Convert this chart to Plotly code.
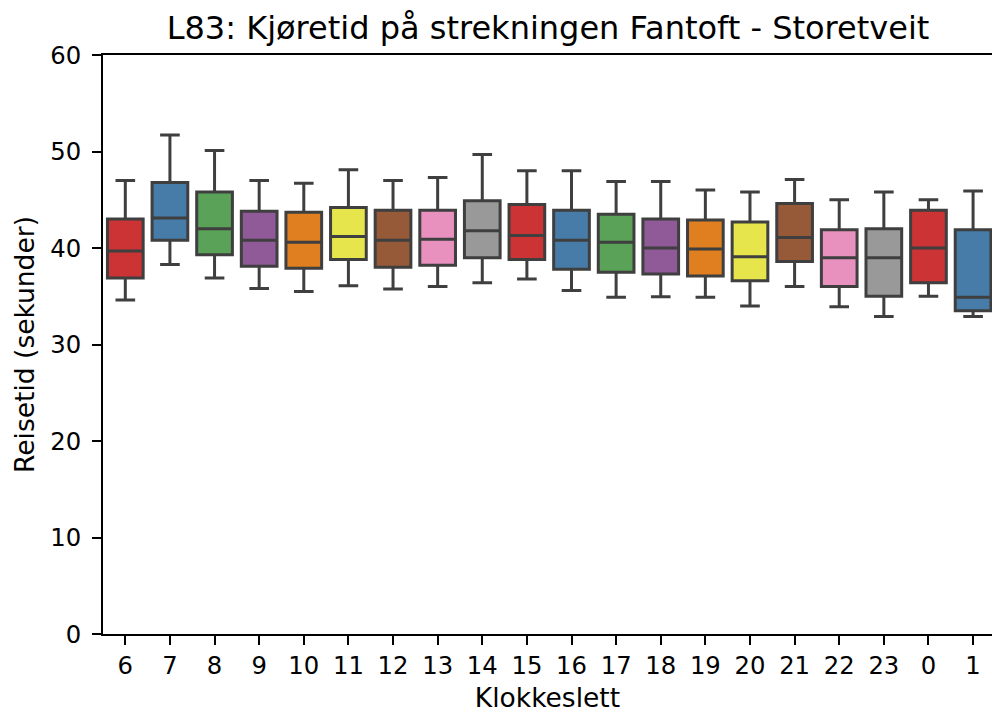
import colorsys
import plotly.graph_objects as go

hours = ["6", "7", "8", "9", "10", "11", "12", "13", "14", "15",
         "16", "17", "18", "19", "20", "21", "22", "23", "0", "1"]
upper = [47.0, 51.7, 50.1, 47.0, 46.7, 48.1, 47.0, 47.3, 49.7, 48.0,
         48.0, 46.9, 46.9, 46.0, 45.8, 47.1, 45.0, 45.8, 45.0, 45.9]
q3 = [43.0, 46.8, 45.8, 43.8, 43.7, 44.2, 43.9, 43.9, 44.9, 44.5,
      43.9, 43.5, 43.0, 42.9, 42.7, 44.6, 41.9, 42.0, 43.9, 41.9]
median = [39.7, 43.1, 42.0, 40.8, 40.6, 41.2, 40.8, 40.9, 41.8, 41.3,
          40.8, 40.6, 40.0, 39.9, 39.1, 41.1, 39.0, 39.0, 40.0, 34.9]
q1 = [36.9, 40.8, 39.3, 38.1, 37.9, 38.8, 38.0, 38.2, 39.0, 38.8,
      37.8, 37.5, 37.3, 37.1, 36.6, 38.6, 36.0, 35.0, 36.4, 33.5]
lower = [34.6, 38.3, 36.9, 35.8, 35.5, 36.1, 35.75, 36.0, 36.4, 36.8,
         35.6, 34.9, 34.95, 34.9, 34.0, 36.0, 33.9, 32.9, 35.0, 32.9]

set1 = ["#e41a1c", "#377eb8", "#4daf4a", "#984ea3", "#ff7f00",
        "#ffff33", "#a65628", "#f781bf", "#999999"]


def desat(hexc, prop=0.75):
    r, g, b = (int(hexc[i:i + 2], 16) / 255 for i in (1, 3, 5))
    h, l, s = colorsys.rgb_to_hls(r, g, b)
    r, g, b = colorsys.hls_to_rgb(h, l, s * prop)
    return "rgb(%d,%d,%d)" % (round(r * 255), round(g * 255), round(b * 255))


palette = [desat(c) for c in set1]
line_col = "rgb(63,63,63)"
FONT = "DejaVu Sans"

fig = go.Figure()
for i, h in enumerate(hours):
    fig.add_trace(go.Box(
        x=[h], q1=[q1[i]], median=[median[i]], q3=[q3[i]],
        lowerfence=[lower[i]], upperfence=[upper[i]],
        fillcolor=palette[i % len(palette)],
        line=dict(color=line_col, width=3),
        width=0.8, whiskerwidth=0.55,
        boxpoints=False, showlegend=False, hoverinfo="skip",
    ))

fig.update_layout(
    width=992, height=713,
    margin=dict(l=103, r=0, t=55, b=79),
    plot_bgcolor="white", paper_bgcolor="white",
    boxmode="overlay",
    font=dict(family=FONT, color="black", size=24),
    title=dict(text="L83: Kjøretid på strekningen Fantoft - Storetveit",
               font=dict(family=FONT, size=32, color="black"),
               x=548 / 992, xref="container", xanchor="center",
               y=1 - 28 / 713, yref="container", yanchor="middle"),
    xaxis=dict(type="category", categoryorder="array", categoryarray=hours,
               range=[-0.5, 19.424], showgrid=False, zeroline=False,
               showline=True, linecolor="black", linewidth=2, mirror=True,
               ticks="outside", ticklen=9, tickwidth=2, tickcolor="black",
               tickfont=dict(size=24.3, color="black"), ticklabelstandoff=0,
               title=dict(text="Klokkeslett", font=dict(size=26.5, color="black"),
                          standoff=14)),
    yaxis=dict(range=[0, 60], tickvals=[0, 10, 20, 30, 40, 50, 60],
               showgrid=False, zeroline=False,
               showline=True, linecolor="black", linewidth=2, mirror=False,
               ticks="outside", ticklen=9, tickwidth=2, tickcolor="black",
               tickfont=dict(size=24.3, color="black"), ticklabelstandoff=6,
               title=dict(text="Reisetid (sekunder)",
                          font=dict(size=26.5, color="black"), standoff=8)),
)

fig.write_html("out.html")
